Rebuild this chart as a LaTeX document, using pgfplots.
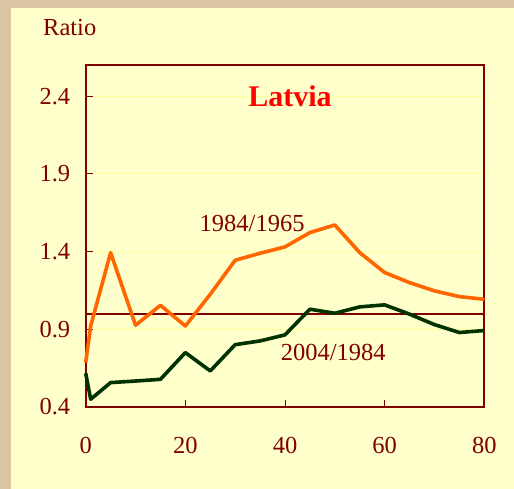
\documentclass[border=0pt]{standalone}
\usepackage{fontspec}
\setmainfont{Liberation Serif}
\usepackage{pgfplots}
\pgfplotsset{compat=1.18}
\definecolor{parch}{RGB}{218,198,162}
\definecolor{panel}{RGB}{255,255,204}
\definecolor{dred}{RGB}{128,0,0}
\definecolor{gridy}{RGB}{255,255,150}
\definecolor{orangeL}{RGB}{255,102,0}
\definecolor{greenL}{RGB}{0,51,0}
\definecolor{titler}{RGB}{255,0,0}
\begin{document}
\begin{tikzpicture}
\path[use as bounding box] (0,0) rectangle (514pt,489pt);
\fill[parch] (0,0) rectangle (514pt,489pt);
\fill[panel] (11pt,0) rectangle (514pt,481pt);
\node[anchor=base west, text=dred, font=\fontsize{24.5}{28}\selectfont, inner sep=0pt] at (43pt,453pt) {Ratio};
\begin{axis}[
  at={(85.7pt,82pt)}, anchor=south west,
  scale only axis, width=398.6pt, height=342pt,
  xmin=0, xmax=80, ymin=0.4, ymax=2.6,
  xtick={0,20,40,60,80}, ytick={0.4,0.9,1.4,1.9,2.4},
  yticklabels={0.4,0.9,1.4,1.9,2.4},
  xtick pos=left, ytick pos=left, tick align=inside,
  major tick length=7pt,
  every tick/.style={dred, line width=1pt},
  axis line style={dred, line width=1.8pt},
  ymajorgrids, major grid style={gridy, line width=0.8pt},
  ticklabel style={text=dred, font=\fontsize{24.5}{28}\selectfont},
  /pgf/number format/assume math mode=true,
  xticklabel style={yshift=-27pt},
  yticklabel style={xshift=-12pt},
  clip=false,
]
\addplot[dred, line width=1.8pt] coordinates {(0,1.0) (80,1.0)};
\addplot[orangeL, line width=3.6pt, line join=round] coordinates {
(0,0.686) (1,0.921) (5,1.393) (10,0.926) (15,1.054) (20,0.921) (25,1.125)
(30,1.344) (35,1.389) (40,1.430) (45,1.522) (50,1.571) (55,1.393) (60,1.265)
(65,1.200) (70,1.147) (75,1.110) (80,1.093)};
\addplot[greenL, line width=3.6pt, line join=round] coordinates {
(0,0.617) (1,0.450) (5,0.557) (10,0.567) (15,0.578) (20,0.750) (25,0.632)
(30,0.801) (35,0.825) (40,0.864) (45,1.029) (50,1.003) (55,1.044) (60,1.057)
(65,0.997) (70,0.930) (75,0.879) (80,0.892)};
\node[text=titler, font=\fontsize{30}{34}\selectfont\bfseries] at (axis cs:41,2.40) {Latvia};
\node[text=dred, font=\fontsize{24.5}{28}\selectfont] at (axis cs:33.4,1.582) {1984/1965};
\node[text=dred, font=\fontsize{24.5}{28}\selectfont] at (axis cs:49.7,0.752) {2004/1984};
\end{axis}
\end{tikzpicture}
\end{document}
